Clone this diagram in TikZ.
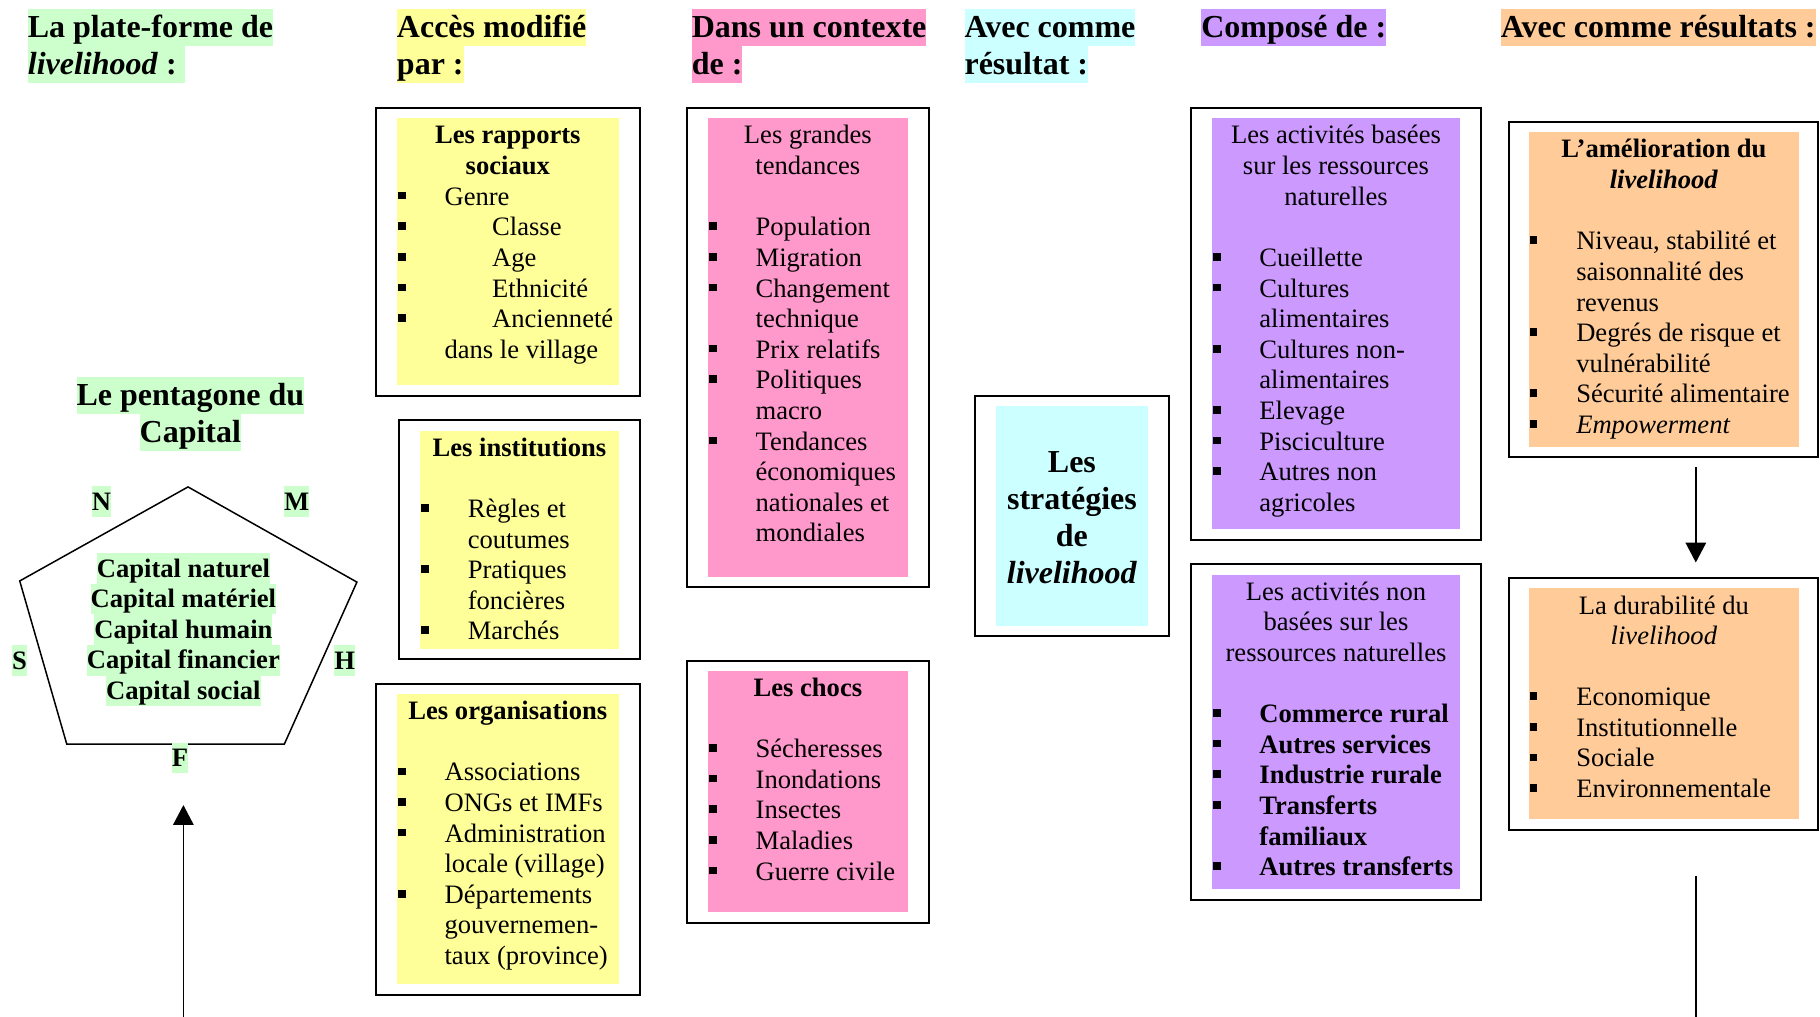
\documentclass[tikz,border=0pt]{standalone}
\usepackage{fontspec}
\setmainfont{Liberation Serif}
\usetikzlibrary{arrows.meta,fit}
\definecolor{hlgreen}{HTML}{CCFFCC}
\definecolor{hlyellow}{HTML}{FFFF99}
\definecolor{hlpink}{HTML}{FF99CC}
\definecolor{hlcyan}{HTML}{CCFFFF}
\definecolor{hlpurple}{HTML}{CC99FF}
\definecolor{hlorange}{HTML}{FFCC99}
\newcommand\bodyfont{\fontsize{13.3pt}{15.3pt}\selectfont}
\newcommand\headfont{\fontsize{16pt}{18.5pt}\selectfont\bfseries}
\newcommand\itemsq{\raisebox{2.9pt}{\rule{3.8pt}{3.8pt}}}
\newcommand\bitem[1]{\makebox[23.8pt][l]{\hspace{0.6pt}\itemsq}#1}
\newcommand\bitemfar[1]{\makebox[47.6pt][l]{\hspace{0.6pt}\itemsq}#1}
\newcommand\indnt[1]{\hspace*{23.8pt}#1}
\newcommand\hlhead[2]{{\setlength\fboxsep{0pt}\colorbox{#1}{\rule[-4.2pt]{0pt}{18.5pt}#2}}}
\newcommand\hlbody[2]{{\setlength\fboxsep{0pt}\colorbox{#1}{\rule[-3.4pt]{0pt}{15.3pt}#2}}}
\tikzset{
  >=Triangle,
  every node/.append style={inner sep=0pt, outer sep=0pt},
}
\tikzset{
  header/.style={anchor=base west, align=left, font=\headfont},
  fillbox/.style={fill=#1, inner sep=0pt},
  boxframe/.style={draw, line width=1pt, inner xsep=10.45pt, inner ysep=5.2pt},
  ttl/.style={anchor=base, align=center, font=\bodyfont\bfseries},
  ttlplain/.style={anchor=base, align=center, font=\bodyfont},
  lst/.style={anchor=base west, align=left, font=\bodyfont},
  corner/.style={anchor=base, font=\bodyfont\bfseries, fill=hlgreen, text height=11.9pt, text depth=3.4pt},
  arr/.style={-{Triangle[length=9.9pt,width=10.2pt]}, line width=0.75pt}
}
\begin{document}
\begin{tikzpicture}[x=0.5804pt, y=-0.5804pt]
\fill[white] (0,0) rectangle (1568,876);
\useasboundingbox (0,0) rectangle (1568,876);

% Column headers (base = last line)
\node[header] (hplate) at (24,63.9) {\hlhead{hlgreen}{La plate-forme de}\\\hlhead{hlgreen}{\textit{livelihood} :\ }};
\node[header] (hacces) at (342,63.9) {\hlhead{hlyellow}{Accès modifié}\\\hlhead{hlyellow}{par :}};
\node[header] (hcontexte) at (596,63.9) {\hlhead{hlpink}{Dans un contexte}\\\hlhead{hlpink}{de :}};
\node[header] (hresultat) at (831,63.9) {\hlhead{hlcyan}{Avec comme}\\\hlhead{hlcyan}{résultat :}};
\node[header] (hcompose) at (1035,32) {\hlhead{hlpurple}{Composé de :}};
\node[header] (hresultats) at (1293,32) {\hlhead{hlorange}{Avec comme résultats :}};

% Pentagon of capital
\node[anchor=base, align=center, font=\headfont] (pentttl) at (164,380.9) {\hlhead{hlgreen}{Le pentagone du}\\\hlhead{hlgreen}{Capital}};
\draw[line width=0.75pt] (162,419.5) -- (307.5,501.5) -- (245,641) -- (57.5,641) -- (17,500.5) -- cycle;
\node[anchor=base, align=center, font=\bodyfont\bfseries] (capitals) at (158,602.6) {\hlbody{hlgreen}{Capital naturel}\\\hlbody{hlgreen}{Capital matériel}\\\hlbody{hlgreen}{Capital humain}\\\hlbody{hlgreen}{Capital financier}\\\hlbody{hlgreen}{Capital social}};
\node[corner] (lblN) at (87.5,439.5) {N};
\node[corner] (lblM) at (255.5,439.5) {M};
\node[corner] (lblS) at (16.8,576.5) {S};
\node[corner] (lblH) at (297,576.5) {H};
\node[corner] (lblF) at (155,660.5) {F};
\coordinate (capfoot) at (158,876);
\draw[arr, shorten >=15.8pt] (capfoot) -- (capfoot |- lblF.south);

% Access column (yellow)
\node[fillbox=hlyellow, fit={(342,102) (533,332)}] (rapports) {};
\node[boxframe, fit=(rapports)] (rapportsframe) {};
\node[ttl] (rapportsttl) at (437.5,150.4) {Les rapports\\sociaux};
\node[lst] (rapportslst) at (342,308.6) {\bitem{Genre}\\\bitemfar{Classe}\\\bitemfar{Age}\\\bitemfar{Ethnicité}\\\bitemfar{Ancienneté}\\\indnt{dans le village}};

\node[fillbox=hlyellow, fit={(362,371) (533,559)}] (instit) {};
\node[boxframe, fit=(instit)] (institframe) {};
\node[ttl] (instittl) at (447.5,393) {Les institutions};
\node[lst] (institlst) at (362,551.2) {\bitem{Règles et}\\\indnt{coutumes}\\\bitem{Pratiques}\\\indnt{foncières}\\\bitem{Marchés}};

\node[fillbox=hlyellow, fit={(342,598) (533,848)}] (orgs) {};
\node[boxframe, fit=(orgs)] (orgsframe) {};
\node[ttl] (orgsttl) at (437.5,620) {Les organisations};
\node[lst] (orgslst) at (342,831) {\bitem{Associations}\\\bitem{ONGs et IMFs}\\\bitem{Administration}\\\indnt{locale (village)}\\\bitem{Départements}\\\indnt{gouvernemen-}\\\indnt{taux (province)}};

% Context column (pink)
\node[fillbox=hlpink, fit={(610,102) (782,497)}] (tendances) {};
\node[boxframe, fit=(tendances)] (tendancesframe) {};
\node[ttlplain] (tendancesttl) at (696,150.4) {Les grandes\\tendances};
\node[lst] (tendanceslst) at (610,466.8) {\bitem{Population}\\\bitem{Migration}\\\bitem{Changement}\\\indnt{technique}\\\bitem{Prix relatifs}\\\bitem{Politiques}\\\indnt{macro}\\\bitem{Tendances}\\\indnt{économiques}\\\indnt{nationales et}\\\indnt{mondiales}};

\node[fillbox=hlpink, fit={(610,578) (782,786)}] (chocs) {};
\node[boxframe, fit=(chocs)] (chocsframe) {};
\node[ttl] (chocsttl) at (696,600) {Les chocs};
\node[lst] (chocslst) at (610,758.2) {\bitem{Sécheresses}\\\bitem{Inondations}\\\bitem{Insectes}\\\bitem{Maladies}\\\bitem{Guerre civile}};

% Strategies (cyan)
\node[fillbox=hlcyan, fit={(858,350) (989,539)}] (strat) {};
\node[boxframe, fit=(strat)] (stratframe) {};
\node[anchor=base, align=center, font=\headfont] (stratttl) at (923.5,502.6) {Les\\stratégies\\de\\\textit{livelihood}};

% Activities column (purple)
\node[fillbox=hlpurple, fit={(1044,102) (1258,456)}] (actnat) {};
\node[boxframe, fit=(actnat)] (actnatframe) {};
\node[ttlplain] (actnatttl) at (1151,176.7) {Les activités basées\\sur les ressources\\naturelles};
\node[lst] (actnatlst) at (1044,440.5) {\bitem{Cueillette}\\\bitem{Cultures}\\\indnt{alimentaires}\\\bitem{Cultures non-}\\\indnt{alimentaires}\\\bitem{Elevage}\\\bitem{Pisciculture}\\\bitem{Autres non}\\\indnt{agricoles}};

\node[fillbox=hlpurple, fit={(1044,495) (1258,766)}] (actnon) {};
\node[boxframe, fit=(actnon)] (actnonframe) {};
\node[ttlplain] (actnonttl) at (1151,569.7) {Les activités non\\basées sur les\\ressources naturelles};
\node[lst, font=\bodyfont\bfseries] (actnonlst) at (1044,754.4) {\bitem{Commerce rural}\\\bitem{Autres services}\\\bitem{Industrie rurale}\\\bitem{Transferts}\\\indnt{familiaux}\\\bitem{Autres transferts}};

% Results column (orange)
\node[fillbox=hlorange, fit={(1317,114) (1550,385)}] (amelior) {};
\node[boxframe, inner xsep=9.6pt, fit=(amelior)] (ameliorframe) {};
\node[ttl] (ameliorttl) at (1433.5,162.4) {L’amélioration du\\\textit{livelihood}};
\node[lst] (ameliorlst) at (1317,373.4) {\bitem{Niveau, stabilité et}\\\indnt{saisonnalité des}\\\indnt{revenus}\\\bitem{Degrés de risque et}\\\indnt{vulnérabilité}\\\bitem{Sécurité alimentaire}\\\bitem{\textit{Empowerment}}};

\node[fillbox=hlorange, fit={(1317,507) (1550,706)}] (durab) {};
\node[boxframe, inner xsep=9.6pt, fit=(durab)] (durabframe) {};
\node[ttlplain] (durabttl) at (1433.5,555.4) {La durabilité du\\\textit{livelihood}};
\node[lst] (durablst) at (1317,687.1) {\bitem{Economique}\\\bitem{Institutionnelle}\\\bitem{Sociale}\\\bitem{Environnementale}};

\coordinate (resx) at (1461,876);
\draw[arr, shorten <=5pt, shorten >=7.8pt] (resx |- ameliorframe.south) -- (resx |- durabframe.north);
\draw[line width=0.75pt, shorten <=22.9pt] (resx |- durabframe.south) -- (resx);
\end{tikzpicture}
\end{document}
